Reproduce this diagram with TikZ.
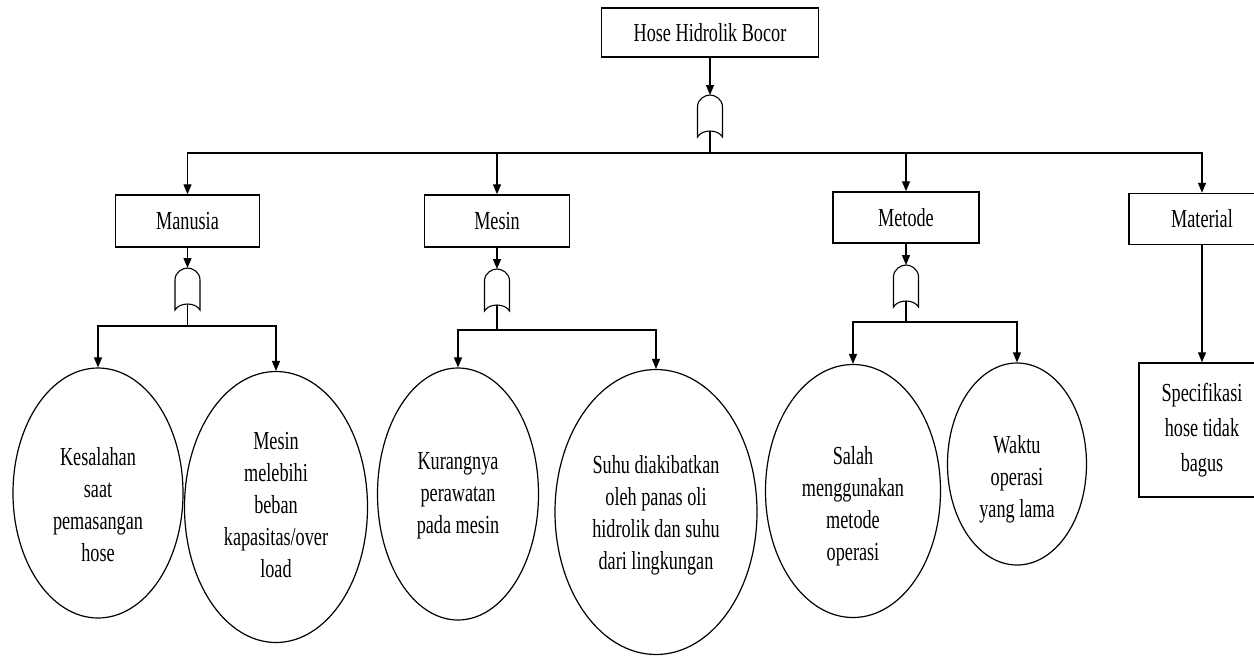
\documentclass[tikz,border=0pt]{standalone}
\usepackage{fontspec}
\setmainfont{Liberation Serif}[FakeStretch=0.70]
\usetikzlibrary{arrows.meta,shapes.geometric,calc}
\tikzset{
  box/.style={draw, line width=1.5pt, rectangle, inner sep=0pt, align=center, font=\fontsize{26}{32}\selectfont},
  oval/.style={draw, line width=1.2pt, ellipse, inner sep=0pt},
  ovaltext/.style={inner sep=0pt, align=center, font=\fontsize{26}{32}\selectfont},
  gatebox/.style={inner sep=0pt, outer sep=0pt, minimum width=25pt, minimum height=42pt},
  gateline/.style={line width=1.1pt},
  conn/.style={line width=1.4pt},
  arr/.style={line width=1.4pt, -{Triangle[length=10pt,width=8pt]}},
}
\newcommand\gateshape[1]{%
  \begin{scope}[shift={(#1.north)}]
    \draw[gateline] (-12.5,42) -- (-12.5,12) .. controls (-12.5,4) and (-5,0) .. (0,0)
      .. controls (5,0) and (12.5,4) .. (12.5,12) -- (12.5,42)
      .. controls (8,34) and (-8,34) .. (-12.5,42) -- cycle;
  \end{scope}
  \coordinate (#1o) at ($(#1.north)+(0,36)$);
}
\begin{document}
\begin{tikzpicture}[x=1pt,y=-1pt]
\useasboundingbox (0,0) rectangle (1254,657);
\clip (0,0) rectangle (1254,657);

% top event
\node[box, minimum width=217pt, minimum height=49pt] (top) at (710,32.5) {Hose Hidrolik Bocor};
\node[gatebox] (g0) at (710,116) {};
\gateshape{g0}

% categories
\node[box, minimum width=144pt, minimum height=52pt] (manusia) at (187.5,221) {Manusia};
\node[box, minimum width=145pt, minimum height=52pt] (mesin) at (497,221) {Mesin};
\node[box, minimum width=146pt, minimum height=51pt] (metode) at (906,217.5) {Metode};
\node[box, minimum width=146pt, minimum height=51pt] (material) at (1202,219) {Material};

\draw[arr] (top) -- (g0.north);
\coordinate (b0) at (710,153);
\draw[conn] (g0o) -- (b0);
\draw[arr] (b0) -| (manusia.north);
\draw[arr] (b0) -| (mesin.north);
\draw[arr] (b0) -| (metode.north);
\draw[arr] (b0) -| (material.north);

% gates under categories
\node[gatebox] (g1) at (187.5,289) {};
\gateshape{g1}
\node[gatebox] (g2) at (497,290) {};
\gateshape{g2}
\node[gatebox] (g3) at (906,286) {};
\gateshape{g3}
\draw[arr] (manusia) -- (g1.north);
\draw[arr] (mesin) -- (g2.north);
\draw[arr] (metode) -- (g3.north);

% basic events
\node[oval, minimum width=170pt, minimum height=250pt] (e1) at (98,493) {};
\node[ovaltext] (e1t) at ($(e1)+(0,12)$) {Kesalahan\\saat\\pemasangan\\hose};
\node[oval, minimum width=183pt, minimum height=271pt] (e2) at (276,507) {};
\node[ovaltext] (e2t) at ($(e2)+(0,-2)$) {Mesin\\melebihi\\beban\\kapasitas/over\\load};
\node[oval, minimum width=161pt, minimum height=252pt] (e3) at (458,494) {};
\node[ovaltext] (e3t) at ($(e3)+(0,2)$) {Kurangnya\\perawatan\\pada mesin};
\node[oval, minimum width=202pt, minimum height=285pt] (e4) at (656,512) {};
\node[ovaltext] (e4t) at ($(e4)+(0,3)$) {Suhu diakibatkan\\oleh panas oli\\hidrolik dan suhu\\dari lingkungan};
\node[oval, minimum width=175pt, minimum height=253pt] (e5) at (853,491) {};
\node[ovaltext] (e5t) at ($(e5)+(0,15)$) {Salah\\menggunakan\\metode\\operasi};
\node[oval, minimum width=139pt, minimum height=202pt] (e6) at (1017,464) {};
\node[ovaltext] (e6t) at ($(e6)+(0,15)$) {Waktu\\operasi\\yang lama};
\node[box, minimum width=126pt, minimum height=134pt, font=\fontsize{26}{35}\selectfont] (spec) at (1202,430) {Specifikasi\\hose tidak\\bagus};

\coordinate (b1) at (187.5,326);
\coordinate (b2) at (497,330);
\coordinate (b3) at (906,322);
\draw[conn] (g1o) -- (b1);
\draw[conn] (g2o) -- (b2);
\draw[conn] (g3o) -- (b3);
\draw[arr] (b1) -| (e1.north);
\draw[arr] (b1) -| (e2.north);
\draw[arr] (b2) -| (e3.north);
\draw[arr] (b2) -| (e4.north);
\draw[arr] (b3) -| (e5.north);
\draw[arr] (b3) -| (e6.north);
\draw[arr] (material) -- (spec);
\end{tikzpicture}
\end{document}
